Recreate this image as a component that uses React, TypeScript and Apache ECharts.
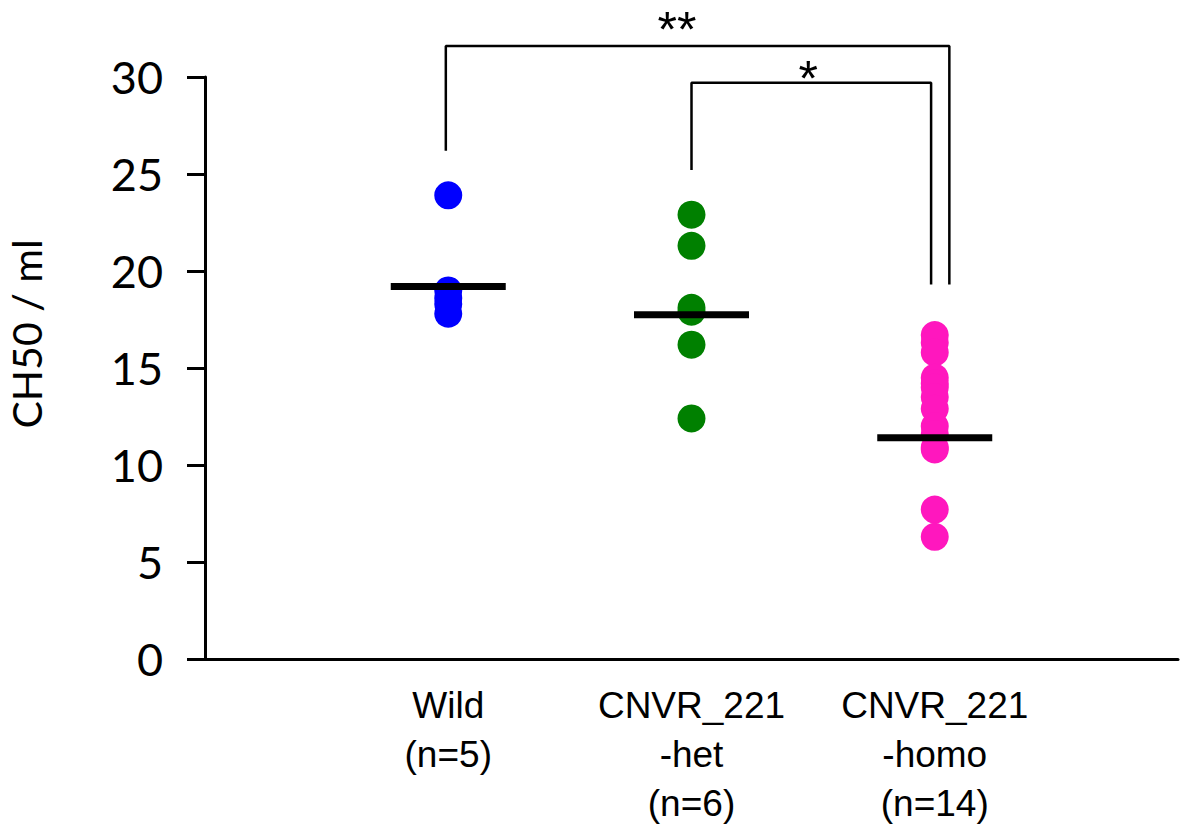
import React, { useEffect, useRef } from "react";
import * as echarts from "echarts";

const categories = ["Wild\n(n=5)", "CNVR_221\n-het\n(n=6)", "CNVR_221\n-homo\n(n=14)"];
const groupColors = ["#0000FF", "#008000", "#FF17BE"];
const wildValues = [23.9, 19.0, 18.6, 18.3, 17.8];
const hetValues = [22.9, 21.3, 18.1, 17.9, 16.2, 12.4];
const homoValues = [16.7, 16.3, 15.8, 14.5, 14.2, 14.0, 13.5, 12.9, 12.0, 11.6, 10.9, 10.8, 7.7, 6.3];
const meanValues = [19.2, 17.75, 11.4];
const yTicks = { min: 0, max: 30, interval: 5 };
const bracketOuter = [[0.99, 26.2], [0.99, 31.6], [3.06, 31.6], [3.06, 19.3]];
const bracketInner = [[2.0, 25.2], [2.0, 29.7], [2.985, 29.7], [2.985, 19.3]];
const starLabels = [
  { text: "**", at: [1.94, 33.7] },
  { text: "*", at: [2.48, 31.2] },
];

export default function App() {
  const ref = useRef<HTMLDivElement>(null);
  useEffect(() => {
    document.body.style.margin = "0";
    const chart = echarts.init(ref.current!, null, { renderer: "svg" });
    const groups = [wildValues, hetValues, homoValues];
    const scatterSeries = groups.map((vals, i) => ({
      type: "scatter",
      symbol: "circle",
      symbolSize: 28,
      itemStyle: { color: groupColors[i], opacity: 1 },
      data: vals.map((v) => [i + 1, v]),
      z: 2,
    }));
    const meanSeries = {
      type: "scatter",
      symbol: "rect",
      symbolSize: [115, 7],
      itemStyle: { color: "#000", opacity: 1 },
      data: meanValues.map((v, i) => [i + 1, v]),
      z: 3,
    };
    const bracketSeries = [bracketOuter, bracketInner].map((d) => ({
      type: "line",
      data: d,
      symbol: "none",
      clip: false,
      lineStyle: { color: "#000", width: 2.5 },
      silent: true,
      z: 1,
    }));
    chart.setOption({
      animation: false,
      grid: { left: 205, right: 2, top: 77, bottom: 176 },
      xAxis: {
        type: "value",
        min: 0,
        max: 4,
        interval: 1,
        splitLine: { show: false },
        axisTick: { show: false },
        axisLine: { lineStyle: { color: "#000", width: 3 } },
        axisLabel: {
          margin: 22,
          color: "#000",
          fontFamily: "Liberation Sans, Arial, sans-serif",
          fontSize: 37,
          lineHeight: 49,
          formatter: (v: number) => (v >= 1 && v <= 3 ? categories[v - 1] : ""),
        },
      },
      yAxis: {
        type: "value",
        min: yTicks.min,
        max: yTicks.max,
        interval: yTicks.interval,
        splitLine: { show: false },
        axisLine: { show: true, lineStyle: { color: "#000", width: 3 } },
        axisTick: { show: true, length: 18, lineStyle: { color: "#000", width: 3 } },
        axisLabel: {
          margin: 42,
          color: "#000",
          fontFamily: "Lato, sans-serif",
          fontSize: 45,
        },
      },
      series: [...bracketSeries, ...scatterSeries, meanSeries],
    });
    const graphics: any[] = starLabels.map((s) => {
      const p = chart.convertToPixel({ gridIndex: 0 }, s.at);
      return {
        type: "text",
        x: p[0],
        y: p[1],
        style: {
          text: s.text,
          fontSize: 50,
          lineHeight: 50,
          fontFamily: "Liberation Sans, Arial, sans-serif",
          fill: "#000",
          align: "center",
          verticalAlign: "top",
        },
      };
    });
    graphics.push({
      type: "text",
      x: 26,
      y: 334,
      rotation: Math.PI / 2,
      style: {
        text: "CH50 / ml",
        fontSize: 41,
        fontFamily: "Lato, sans-serif",
        fill: "#000",
        align: "center",
        verticalAlign: "middle",
      },
    });
    chart.setOption({ graphic: graphics });
    return () => chart.dispose();
  }, []);
  return <div ref={ref} style={{ width: 1181, height: 835 }} />;
}
